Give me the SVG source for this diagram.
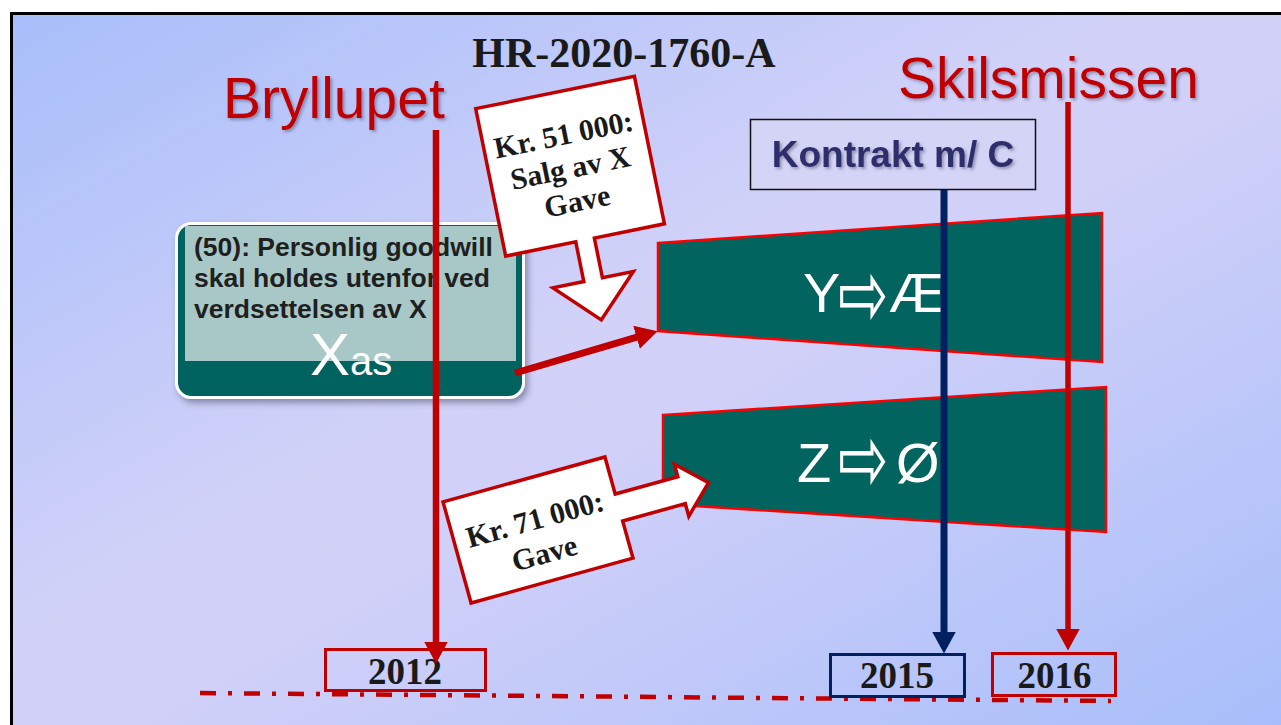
<svg xmlns="http://www.w3.org/2000/svg" width="1281" height="725" viewBox="0 0 1281 725">
  <defs>
    <linearGradient id="bg" x1="0" y1="0" x2="1" y2="1">
      <stop offset="0" stop-color="#A8BEFA"/>
      <stop offset="0.45" stop-color="#D2D2F8"/>
      <stop offset="0.55" stop-color="#D0D0F8"/>
      <stop offset="1" stop-color="#A8BEFA"/>
    </linearGradient>
    <filter id="tshadow" x="-10%" y="-10%" width="130%" height="140%">
      <feDropShadow dx="2" dy="2" stdDeviation="1.5" flood-color="#404060" flood-opacity="0.45"/>
    </filter>
    <filter id="bshadow" x="-10%" y="-10%" width="130%" height="130%">
      <feDropShadow dx="3" dy="4" stdDeviation="3" flood-color="#303050" flood-opacity="0.45"/>
    </filter>
    <marker id="headRed" markerUnits="userSpaceOnUse" viewBox="0 0 22 24" refX="0.5" refY="12" markerWidth="22" markerHeight="24" orient="auto">
      <path d="M0,0 L22,12 L0,24 Z" fill="#C00000"/>
    </marker>
    <marker id="headNavy" markerUnits="userSpaceOnUse" viewBox="0 0 22 24" refX="0.5" refY="12" markerWidth="22" markerHeight="24" orient="auto">
      <path d="M0,0 L22,12 L0,24 Z" fill="#002060"/>
    </marker>
    <style>
      .sans { font-family: "Liberation Sans", Arial, sans-serif; }
      .serif { font-family: "Liberation Serif", "Times New Roman", serif; font-weight: bold; fill: #1A1A1A; }
      .heading { font-family: "Liberation Sans", Arial, sans-serif; font-size: 57px; fill: #C00000; filter: url(#tshadow); }
      .trap { fill: #02645F; stroke: #FF0000; stroke-width: 2.5; stroke-linejoin: miter; }
      .traptext { font-family: "Liberation Sans", Arial, sans-serif; font-size: 56px; fill: #FFFFFF; }
      .arr { font-family: "DejaVu Sans", sans-serif; font-size: 60px; fill: #FFFFFF; }
      .callout { fill: #FFFFFF; stroke: #C00000; stroke-width: 3.5; stroke-linejoin: miter; }
      .ctext { font-family: "Liberation Serif", "Times New Roman", serif; font-weight: bold; font-size: 30px; fill: #1A1A1A; text-anchor: middle; }
      .year { fill: none; stroke-width: 3; }
      .ytext { font-family: "Liberation Serif", "Times New Roman", serif; font-weight: bold; font-size: 37px; fill: #1A1A1A; text-anchor: middle; }
      .red { stroke: #C00000; }
      .navy { stroke: #002060; }
    </style>
  </defs>

  <!-- background and frame -->
  <rect x="0" y="0" width="1281" height="725" fill="#FFFFFF"/>
  <rect x="10" y="12" width="1271" height="713" fill="url(#bg)"/>
  <path d="M11.5,725 V13.5 H1281" fill="none" stroke="#000000" stroke-width="3"/>

  <!-- title -->
  <text id="title" class="serif" x="624" y="67" font-size="42" text-anchor="middle">HR-2020-1760-A</text>

  <!-- headings -->
  <text id="bryllupet" class="heading" x="223" y="118">Bryllupet</text>
  <text id="skilsmissen" class="heading" x="898" y="98">Skilsmissen</text>

  <!-- trapezoid Y -> Æ -->
  <g id="node-y">
    <polygon class="trap" points="658,243 1102,213 1102,362 658,331"/>
    <text class="traptext" y="312"><tspan x="803">Y</tspan><tspan x="889">Æ</tspan></text>
    <text class="arr" transform="translate(838,297) scale(1,1.55)" x="0" y="19">⇨</text>
  </g>

  <!-- trapezoid Z -> Ø -->
  <g id="node-z">
    <polygon class="trap" points="663,415 1106,387 1106,532 663,504"/>
    <text class="traptext" y="482"><tspan x="797">Z</tspan><tspan x="896">Ø</tspan></text>
    <text class="arr" transform="translate(838,462) scale(1,1.55)" x="0" y="19">⇨</text>
  </g>

  <!-- Xas box -->
  <g id="node-xas">
    <rect x="176.5" y="223.5" width="347" height="174" rx="15" fill="#02645F" stroke="#FFFFFF" stroke-width="3" filter="url(#bshadow)"/>
    <rect x="185" y="226" width="331" height="135" fill="#A8C8C8"/>
    <text class="sans" font-size="26.5" font-weight="bold" fill="#1F1F1F">
      <tspan x="194" y="256">(50): Personlig goodwill</tspan>
      <tspan x="194" y="287">skal holdes utenfor ved</tspan>
      <tspan x="194" y="318">verdsettelsen av X</tspan>
    </text>
    <text class="sans" fill="#FFFFFF" y="375"><tspan x="310" font-size="60">X</tspan><tspan x="350" font-size="40">as</tspan></text>
  </g>

  <!-- Kontrakt box -->
  <g id="node-kontrakt">
    <rect x="750.5" y="119.5" width="285" height="70" fill="#D4D4F6" stroke="#111111" stroke-width="1.5"/>
    <text class="sans" x="893" y="167" font-size="37" font-weight="bold" fill="#2E2E6C" text-anchor="middle" filter="url(#tshadow)">Kontrakt m/ C</text>
  </g>

  <!-- callout 51 000 -->
  <g id="callout-51000" transform="translate(570,166) rotate(-11.5)">
    <path class="callout" d="M-81,-75 H81 V75.5 H9.5 V116 H41 L0,157 L-41,116 H-9.5 V75.5 H-81 Z"/>
    <text class="ctext" x="0" y="-22">Kr. 51 000:</text>
    <text class="ctext" x="0" y="12">Salg av X</text>
    <text class="ctext" x="0" y="46">Gave</text>
  </g>

  <!-- callout 71 000 -->
  <g id="callout-71000" transform="translate(538,530) rotate(-15.5)">
    <path class="callout" d="M-84,-52.5 H84 V-14 H149 V-27 L177,0 L149,27 V14 H84 V52.5 H-84 Z"/>
    <text class="ctext" x="0" y="-1">Kr. 71 000:</text>
    <text class="ctext" x="0" y="34">Gave</text>
  </g>

  <!-- timeline -->
  <g id="timeline">
    <line x1="200" y1="693" x2="1111" y2="701" stroke="#C00000" stroke-width="4.5" stroke-dasharray="16 12 4 12"/>
  </g>

  <!-- year boxes -->
  <g id="year-2012">
    <rect class="year red" x="325.5" y="649.5" width="160" height="41"/>
    <text class="ytext" x="405" y="684">2012</text>
  </g>
  <g id="year-2015">
    <rect class="year navy" x="830.5" y="654.5" width="134" height="42"/>
    <text class="ytext" x="897" y="688">2015</text>
  </g>
  <g id="year-2016">
    <rect class="year red" x="992.5" y="653.5" width="123" height="42"/>
    <text class="ytext" x="1054.5" y="688">2016</text>
  </g>

  <!-- connectors -->
  <g id="connectors" fill="none">
    <line x1="436" y1="130" x2="436" y2="642" stroke="#C00000" stroke-width="6.5" marker-end="url(#headRed)"/>
    <line x1="1068" y1="102" x2="1068" y2="629" stroke="#C00000" stroke-width="5.5" marker-end="url(#headRed)"/>
    <line x1="944" y1="190" x2="944" y2="632" stroke="#002060" stroke-width="7" marker-end="url(#headNavy)"/>
    <line x1="515" y1="373" x2="637" y2="337.2" stroke="#C00000" stroke-width="7" marker-end="url(#headRed)"/>
  </g>
</svg>
